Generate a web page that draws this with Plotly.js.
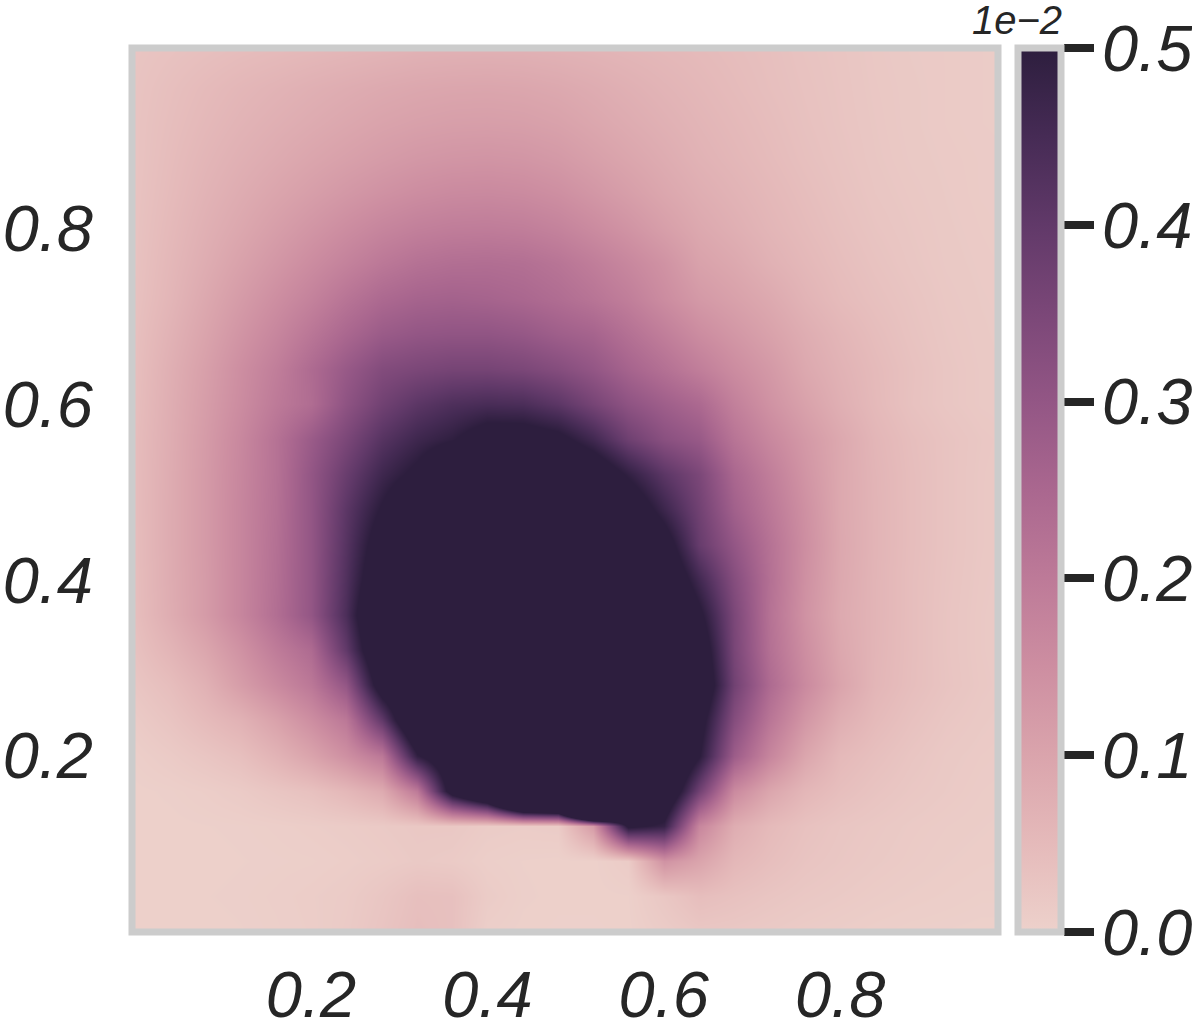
<!DOCTYPE html>
<html>
<head>
<meta charset="utf-8">
<script src="https://cdn.plot.ly/plotly-3.0.1.min.js"></script>
<style>
html, body { margin: 0; padding: 0; background: #fff; overflow: hidden; }
</style>
</head>
<body>
<div id="chart" style="width:1192px;height:1032px;"></div>
<script>
const xGrid = [0,.04,.08,.12,.16,.2,.24,.28,.32,.36,.4,.44,.48,.52,.56,.6,.64,.68,.72,.76,.8,.84,.88,.92,.96,1]
const yGrid = [0,.04,.08,.12,.16,.2,.24,.28,.32,.36,.4,.44,.48,.52,.56,.6,.64,.68,.72,.76,.8,.84,.88,.92,.96,1]

// values in units of 1e-2, bottom row first
const zRows = [
[.002,.002,.002,.003,.005,.008,.015,.028,.042,.036,.006,.002,.001,.001,.002,.012,.022,.02,.016,.012,.009,.006,.004,.003,.002,.002],
[.002,.002,.003,.004,.006,.009,.013,.024,.038,.036,.012,.004,.002,.002,.003,.022,.042,.034,.026,.02,.016,.012,.009,.007,.005,.005],
[.002,.002,.002,.003,.004,.005,.008,.012,.017,.014,.006,.003,.002,.002,.012,.14,.1,.056,.04,.028,.022,.017,.013,.01,.008,.007],
[.002,.002,.003,.004,.006,.009,.012,.016,.02,.02,.012,.01,.012,.12,.52,.48,.17,.08,.05,.034,.025,.02,.015,.012,.01,.008],
[.002,.004,.008,.014,.025,.035,.055,.085,.2,.56,.75,1.24,1.33,2.6,.9,.62,.37,.16,.095,.058,.04,.029,.021,.016,.012,.01],
[.006,.014,.025,.038,.065,.1,.145,.205,.49,.6,.69,.72,.73,.77,.79,.68,.505,.28,.17,.095,.052,.038,.026,.018,.014,.012],
[.014,.028,.048,.068,.105,.15,.205,.4,.66,.7,.8,.86,.88,.92,.83,.68,.54,.33,.21,.13,.076,.05,.034,.023,.017,.013],
[.025,.042,.07,.115,.16,.205,.3,.56,.65,.78,.9,1,1,.99,.84,.7,.6,.37,.24,.16,.1,.06,.042,.029,.02,.015],
[.035,.062,.095,.14,.195,.24,.4,.62,.71,.84,.98,1.1,1.1,.97,.83,.68,.57,.355,.225,.15,.092,.062,.043,.028,.019,.014],
[.042,.08,.12,.17,.23,.3,.44,.65,.75,.89,1.03,1.16,1.08,.94,.8,.66,.52,.35,.22,.14,.087,.063,.043,.028,.019,.014],
[.043,.082,.12,.17,.227,.3,.43,.59,.73,.86,1,1.1,1,.86,.73,.6,.46,.33,.225,.145,.09,.063,.043,.029,.02,.015],
[.044,.083,.122,.17,.225,.3,.42,.555,.69,.82,.94,.98,.86,.78,.67,.55,.39,.3,.22,.15,.092,.064,.044,.03,.021,.016],
[.045,.083,.122,.17,.222,.3,.41,.51,.61,.74,.84,.84,.74,.66,.58,.47,.37,.27,.205,.145,.09,.064,.044,.03,.021,.016],
[.045,.082,.122,.168,.22,.3,.385,.465,.52,.62,.69,.69,.63,.58,.49,.41,.35,.25,.19,.135,.09,.063,.044,.03,.021,.017],
[.045,.08,.12,.165,.22,.285,.35,.42,.465,.495,.55,.55,.525,.46,.375,.32,.29,.215,.165,.125,.09,.06,.042,.03,.022,.018],
[.042,.078,.115,.155,.2,.235,.31,.37,.41,.435,.445,.44,.41,.36,.31,.275,.245,.185,.14,.105,.075,.052,.034,.024,.018,.016],
[.04,.075,.11,.15,.19,.24,.29,.335,.35,.36,.36,.35,.33,.3,.26,.225,.19,.155,.125,.09,.068,.05,.035,.024,.018,.015],
[.038,.068,.1,.135,.17,.21,.25,.285,.3,.305,.305,.295,.275,.26,.225,.19,.155,.13,.105,.08,.06,.044,.031,.022,.017,.014],
[.035,.06,.09,.12,.15,.18,.215,.245,.26,.265,.26,.25,.235,.215,.19,.155,.125,.107,.088,.065,.048,.037,.028,.02,.016,.014],
[.033,.056,.08,.105,.13,.155,.18,.205,.222,.23,.232,.228,.214,.192,.167,.14,.105,.09,.07,.055,.042,.032,.024,.018,.015,.013],
[.032,.052,.073,.092,.113,.133,.153,.172,.185,.192,.194,.19,.178,.158,.137,.112,.09,.075,.06,.048,.037,.028,.022,.017,.014,.012],
[.031,.048,.066,.082,.098,.113,.128,.142,.153,.16,.162,.158,.148,.131,.113,.094,.078,.066,.054,.043,.033,.025,.02,.016,.013,.012],
[.03,.045,.06,.073,.085,.097,.108,.119,.128,.133,.135,.132,.124,.11,.096,.082,.068,.058,.048,.038,.03,.023,.018,.015,.013,.012],
[.03,.042,.054,.065,.075,.084,.093,.102,.108,.112,.113,.111,.105,.094,.083,.072,.062,.053,.044,.035,.028,.022,.017,.014,.012,.011],
[.029,.039,.049,.058,.066,.074,.081,.088,.093,.096,.097,.095,.09,.082,.073,.064,.056,.048,.04,.033,.027,.021,.017,.014,.012,.011],
[.027,.033,.039,.045,.05,.055,.06,.065,.07,.072,.073,.072,.069,.065,.06,.055,.05,.044,.038,.031,.026,.02,.016,.014,.012,.011]
]

const axisTicks = [.2,.4,.6,.8]
const axisLabels = ['0.2','0.4','0.6','0.8']
const barTicks = [0,.1,.2,.3,.4,.5]
const barLabels = ['0.0','0.1','0.2','0.3','0.4','0.5']

const colors = [
    [0,'rgb(237,209,203)'],[.1,'rgb(229,186,186)'],[.2,'rgb(218,164,172)'],[.3,'rgb(205,142,161)'],
    [.4,'rgb(189,122,152)'],[.5,'rgb(170,103,143)'],[.6,'rgb(147,86,133)'],[.7,'rgb(123,71,120)'],
    [.8,'rgb(97,57,105)'],[.9,'rgb(70,43,85)'],[1,'rgb(45,30,62)']
]

const tickFont = {family: 'Liberation Sans', size: 65, color: '#262626', style: 'italic'}

const data = [{
    type: 'heatmap',
    x: xGrid,
    y: yGrid,
    z: zRows,
    zmin: 0,
    zmax: .5,
    zsmooth: 'best',
    colorscale: colors,
    colorbar: {
        thickness: 43,
        thicknessmode: 'pixels',
        len: 1,
        lenmode: 'fraction',
        x: 1.0236,
        xanchor: 'left',
        xpad: 0,
        y: 0,
        yanchor: 'bottom',
        ypad: 0,
        outlinewidth: 7,
        outlinecolor: '#cccccc',
        borderwidth: 0,
        ticks: 'outside',
        ticklen: 30,
        tickwidth: 8,
        tickcolor: '#262626',
        tickmode: 'array',
        tickvals: barTicks,
        ticktext: barLabels,
        tickfont: tickFont
    }
}]

const layout = {
    width: 1192,
    height: 1032,
    margin: {l: 132, r: 194, t: 48, b: 100, autoexpand: false},
    paper_bgcolor: '#fff',
    plot_bgcolor: '#fff',
    xaxis: {
        range: [-.003, .979],
        showgrid: false,
        zeroline: false,
        ticks: 'outside',
        ticklen: 6,
        tickwidth: 0,
        tickcolor: 'rgba(0,0,0,0)',
        tickmode: 'array',
        tickvals: axisTicks,
        ticktext: axisLabels,
        tickfont: tickFont
    },
    yaxis: {
        range: [-.0006, 1.005],
        showgrid: false,
        zeroline: false,
        ticks: 'outside',
        ticklen: 25,
        tickwidth: 0,
        tickcolor: 'rgba(0,0,0,0)',
        tickmode: 'array',
        tickvals: axisTicks,
        ticktext: axisLabels,
        tickfont: tickFont
    },
    shapes: [{
        type: 'rect',
        xref: 'paper',
        yref: 'paper',
        x0: 0, x1: 1, y0: 0, y1: 1,
        line: {color: '#cccccc', width: 7},
        layer: 'above'
    }],
    annotations: [{
        text: '1e\u22122',
        xref: 'paper',
        yref: 'paper',
        x: 1.076,
        y: 1.004,
        xanchor: 'right',
        yanchor: 'bottom',
        showarrow: false,
        font: {family: 'Liberation Sans', size: 40, color: '#262626', style: 'italic'}
    }]
}

Plotly.newPlot('chart', data, layout, {displayModeBar: false, staticPlot: true}).then(() => {
    // colorbar labels sit a little closer to the ticks in the original
    document.querySelectorAll('.colorbar .ytick text, .colorbar .cbaxis text').forEach(t => {
        t.setAttribute('x', parseFloat(t.getAttribute('x')) - 5)
    })
})
</script>
</body>
</html>
